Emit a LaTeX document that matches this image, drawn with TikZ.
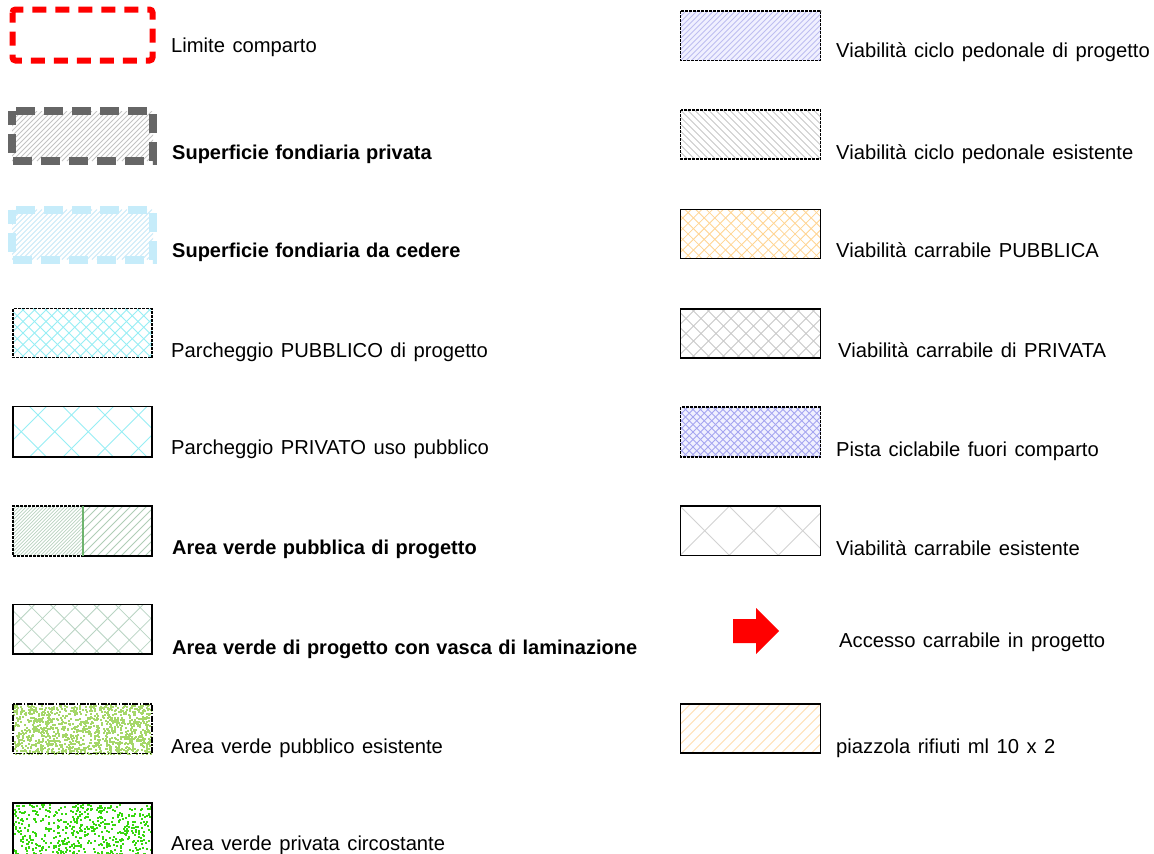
\documentclass[tikz,border=0pt]{standalone}
\usepackage{fontspec}
\setmainfont{Liberation Sans}
\definecolor{redC}{RGB}{255,0,0}
\definecolor{grayDash}{RGB}{102,102,102}
\definecolor{blueDash}{RGB}{198,236,250}
\definecolor{hGray}{RGB}{195,195,195}
\definecolor{hBlue}{RGB}{200,232,248}
\definecolor{cyanH}{RGB}{150,238,245}
\definecolor{greenH}{RGB}{185,210,192}
\definecolor{greenH2}{RGB}{175,205,182}
\definecolor{greenDiv}{RGB}{110,180,110}
\definecolor{vascaH}{RGB}{185,212,195}
\definecolor{greenEs}{RGB}{165,215,105}
\definecolor{greenPr}{RGB}{55,215,15}
\definecolor{lavFill}{RGB}{240,240,255}
\definecolor{lavH}{RGB}{190,190,240}
\definecolor{orangeH}{RGB}{255,212,145}
\definecolor{orangeL}{RGB}{255,222,175}
\definecolor{blueX}{RGB}{165,165,240}
\definecolor{grayX}{RGB}{200,200,200}
\definecolor{grayXL}{RGB}{210,210,210}
\newlength\lblspace
\newcommand\lblfont{\fontsize{20.2}{23}\selectfont\setlength\lblspace{0.37em}\spaceskip\lblspace\relax}
\newcommand\lblfontb{\fontsize{20.0}{23}\selectfont\bfseries\setlength\lblspace{0.32em}\spaceskip\lblspace\relax}
% diagonal hatching inside a rectangle: x1 y1 x2 y2 spacing style
\newcommand\hatchNE[6]{%
  \begin{scope}
    \clip (#1,#2) rectangle (#3,#4);
    \pgfmathsetmacro\hH{#4-#2}%
    \pgfmathsetmacro\hA{#1-\hH}%
    \pgfmathsetmacro\hB{#1-\hH+#5}%
    \foreach \xx in {\hA,\hB,...,#3} {\draw[#6] (\xx,#4) -- ++(\hH,-\hH);}
  \end{scope}}
\newcommand\hatchNW[6]{%
  \begin{scope}
    \clip (#1,#2) rectangle (#3,#4);
    \pgfmathsetmacro\hH{#4-#2}%
    \pgfmathsetmacro\hA{#1-\hH}%
    \pgfmathsetmacro\hB{#1-\hH+#5}%
    \foreach \xx in {\hA,\hB,...,#3} {\draw[#6] (\xx,#2) -- ++(\hH,\hH);}
  \end{scope}}
\newcommand\hatchX[6]{\hatchNE{#1}{#2}{#3}{#4}{#5}{#6}\hatchNW{#1}{#2}{#3}{#4}{#5}{#6}}
% random speckle: x1 y1 width height count colour
\newcommand\speckle[6]{%
  \begin{scope}
    \clip (#1,#2) rectangle ++(#3,#4);
    \foreach \k in {1,...,#5} {%
      \pgfmathsetmacro\rx{#1+#3*rnd}%
      \pgfmathsetmacro\ry{#2+#4*rnd}%
      \fill[#6] (\rx,\ry) rectangle ++(2,2);}
  \end{scope}}
\begin{document}
\begin{tikzpicture}[x=1pt,y=-1pt,
  lbl/.style={anchor=base west, inner sep=0pt, text=black, font=\lblfont},
  lblb/.style={anchor=base west, inner sep=0pt, text=black, font=\lblfontb},
  thinbox/.style={draw=black, line width=1.3pt},
  dashbox/.style={draw=black, line width=1.3pt, dash pattern=on 3pt off 1pt},
  hl/.style={line width=0.8pt}
]
\useasboundingbox (0,0) rectangle (1154,854);
\clip (0,0) rectangle (1154,854);
\fill[white] (0,0) rectangle (1154,854);

% ---------------- left column ----------------
% 1 Limite comparto
\draw[redC, line width=6pt, dash pattern=on 14pt off 9pt, dash phase=4pt, rounded corners=3pt]
  (12.5,9.5) rectangle (152.5,60.5);
\node[lbl] (t1) at (171,52) {Limite comparto};

% 2 Superficie fondiaria privata
\hatchNE{12}{111}{153}{161}{5}{hGray,hl}
\draw[grayDash, line width=8pt, dash pattern=on 19pt off 9pt, dash phase=5pt]
  (12,111) rectangle (153,161);
\node[lblb] (t2) at (172,159) {Superficie fondiaria privata};

% 3 Superficie fondiaria da cedere
\hatchNE{12}{209.5}{153}{259.5}{5}{hBlue,hl}
\draw[blueDash, line width=8pt, dash pattern=on 19pt off 9pt, dash phase=5pt]
  (12,209.5) rectangle (153,259.5);
\node[lblb] (t3) at (172,257) {Superficie fondiaria da cedere};

% 4 Parcheggio PUBBLICO di progetto
\hatchX{13}{308.5}{152}{357.5}{11.5}{cyanH,hl}
\draw[dashbox] (13,308.5) rectangle (152,357.5);
\node[lbl] (t4) at (171,357) {Parcheggio PUBBLICO di progetto};

% 5 Parcheggio PRIVATO uso pubblico
\hatchX{13}{406.5}{152}{457}{33.5}{cyanH,hl}
\draw[thinbox] (13,406.5) rectangle (152,457);
\node[lbl] (t5) at (171,454) {Parcheggio PRIVATO uso pubblico};

% 6 Area verde pubblica di progetto
\hatchNE{13}{506}{83}{556}{3.5}{greenH,line width=0.7pt}
\hatchNE{83}{506}{152}{556}{8}{greenH2,hl}
\draw[dashbox] (83,506) -- (13,506) -- (13,556) -- (83,556);
\draw[thinbox] (83,506) -- (152,506) -- (152,556) -- (83,556);
\draw[greenDiv, line width=1.2pt] (83,506) -- (83,556);
\node[lblb] (t6) at (172,554) {Area verde pubblica di progetto};

% 7 Area verde di progetto con vasca di laminazione
\hatchX{13}{604.5}{152}{654}{21.7}{vascaH,hl}
\draw[thinbox] (13,604.5) rectangle (152,654);
\node[lblb] (t7) at (172,654) {Area verde di progetto con vasca di laminazione};

% 8 Area verde pubblico esistente
\pgfmathsetseed{17}
\speckle{13}{704}{139}{50}{1150}{greenEs}
\draw[draw=black, line width=1.3pt, dash pattern=on 6pt off 1.5pt on 1.5pt off 1.5pt]
  (13,704) rectangle (152,753.5);
\node[lbl] (t8) at (171,753) {Area verde pubblico esistente};

% 9 Area verde privata circostante
\pgfmathsetseed{29}
\speckle{13}{803}{139}{60}{650}{greenPr}
\draw[thinbox] (13,803) rectangle (152,880);
\node[lbl] (t9) at (171,850) {Area verde privata circostante};

% ---------------- right column ----------------
% 1 Viabilita ciclo pedonale di progetto
\fill[lavFill] (680.5,11) rectangle (820.5,60.5);
\hatchNE{680.5}{11}{820.5}{60.5}{5.5}{lavH,hl}
\draw[dashbox] (680.5,11) rectangle (820.5,60.5);
\node[lbl] (r1) at (836,57) {Viabilità ciclo pedonale di progetto};

% 2 Viabilita ciclo pedonale esistente
\hatchNW{680.5}{110}{820.5}{159}{7}{grayX,hl}
\draw[dashbox] (680.5,110) rectangle (820.5,159);
\node[lbl] (r2) at (836,159) {Viabilità ciclo pedonale esistente};

% 3 Viabilita carrabile PUBBLICA
\hatchX{680.5}{209.5}{820.5}{258.5}{10.7}{orangeH,hl}
\draw[thinbox] (680.5,209.5) rectangle (820.5,258.5);
\node[lbl] (r3) at (836,257) {Viabilità carrabile PUBBLICA};

% 4 Viabilita carrabile di PRIVATA
\hatchX{680.5}{309}{820.5}{358}{15}{grayX,hl}
\draw[thinbox] (680.5,309) rectangle (820.5,358);
\node[lbl] (r4) at (838,357) {Viabilità carrabile di PRIVATA};

% 5 Pista ciclabile fuori comparto
\fill[lavFill] (680.5,407) rectangle (820.5,457);
\hatchX{680.5}{407}{820.5}{457}{7.5}{blueX,hl}
\draw[dashbox] (680.5,407) rectangle (820.5,457);
\node[lbl] (r5) at (836,456) {Pista ciclabile fuori comparto};

% 6 Viabilita carrabile esistente
\hatchX{680.5}{506}{820.5}{555.5}{49}{grayXL,line width=1pt}
\draw[thinbox] (680.5,506) rectangle (820.5,555.5);
\node[lbl] (r6) at (836,555) {Viabilità carrabile esistente};

% 7 Accesso carrabile in progetto
\fill[redC] (733,619) -- (756,619) -- (756,608) -- (779,631) -- (756,654)
  -- (756,643) -- (733,643) -- cycle;
\node[lbl] (r7) at (839,647) {Accesso carrabile in progetto};

% 8 piazzola rifiuti
\hatchNE{680.5}{704}{820.5}{753}{10}{orangeL,hl}
\draw[thinbox] (680.5,704) rectangle (820.5,753);
\node[lbl] (r8) at (836,753) {piazzola rifiuti ml 10 x 2};
\end{tikzpicture}
\end{document}
